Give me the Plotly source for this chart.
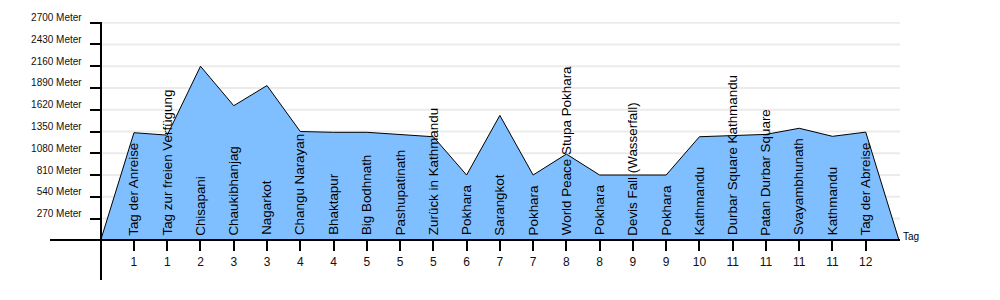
import plotly.graph_objects as go

# ---- data ----
places = ["Tag der Anreise", "Tag zur freien Verfügung", "Chisapani", "Chaukibhanjag",
          "Nagarkot", "Changu Narayan", "Bhaktapur", "Big Bodhnath", "Pashupatinath",
          "Zurück in Kathmandu", "Pokhara", "Sarangkot", "Pokhara", "World Peace Stupa Pokhara",
          "Pokhara", "Devis Fall (Wasserfall)", "Pokhara", "Kathmandu", "Durbar Square Kathmandu",
          "Patan Durbar Square", "Svayambhunath", "Kathmandu", "Tag der Abreise"]
days = [1, 1, 2, 3, 3, 4, 4, 5, 5, 5, 6, 7, 7, 8, 8, 9, 9, 10, 11, 11, 11, 11, 12]
altitude = [1335, 1305, 2160, 1670, 1920, 1350, 1340, 1340, 1312, 1285, 810, 1550, 810,
            1070, 810, 810, 810, 1285, 1300, 1314, 1390, 1290, 1342]
y_ticks = [270, 540, 810, 1080, 1350, 1620, 1890, 2160, 2430, 2700]
y_tick_labels = [f"{v} Meter" for v in y_ticks]
x_title = "Tag"

FONT = "Arial, Liberation Sans, sans-serif"
n = len(places)
idx = list(range(n))
xr = [-2.524, 23.03]
yr = [-492.5, 2708.6]

fig = go.Figure()

# gridlines
for v in y_ticks:
    fig.add_shape(type="line", xref="x", yref="y", x0=-1, x1=xr[1], y0=v, y1=v,
                  line=dict(color="#ebebeb", width=2), layer="below")

fig.add_trace(go.Scatter(
    x=[-1] + idx + [n], y=[0] + altitude + [0],
    mode="lines", fill="tozeroy", fillcolor="#80bfff",
    line=dict(color="black", width=1), hoverinfo="skip", showlegend=False))

for i, p in enumerate(places):
    fig.add_annotation(x=i, y=0, xref="x", yref="y", text=p, textangle=-90,
                       showarrow=False, xanchor="center", yanchor="bottom", yshift=3,
                       font=dict(family=FONT, size=13.4, color="black"))

fig.add_annotation(x=1, y=0, xref="paper", yref="y", text=x_title, showarrow=False,
                   xanchor="left", yanchor="middle", xshift=1, yshift=4,
                   font=dict(family=FONT, size=10, color="black"))

fig.update_layout(
    width=1000, height=300,
    margin=dict(l=50, r=100, t=20, b=20),
    paper_bgcolor="white", plot_bgcolor="white",
    showlegend=False,
    xaxis=dict(range=xr, tickmode="array", tickvals=idx, ticktext=[str(d) for d in days],
               showgrid=False, zeroline=False, showline=True, linecolor="black", linewidth=2,
               ticks="outside", ticklen=10, tickwidth=2, tickcolor="black",
               anchor="free", position=40/260, ticklabelstandoff=0,
               tickfont=dict(family=FONT, size=12, color="#111")),
    yaxis=dict(range=yr, tickmode="array", tickvals=y_ticks, ticktext=y_tick_labels,
               showgrid=False, zeroline=False, showline=True, linecolor="black", linewidth=2,
               ticks="outside", ticklen=10, tickwidth=2, tickcolor="black",
               anchor="free", position=50.7/850, ticklabelshift=-5, ticklabelstandoff=6,
               tickfont=dict(family=FONT, size=10, color="#111")),
)

fig.write_html("out.html")
